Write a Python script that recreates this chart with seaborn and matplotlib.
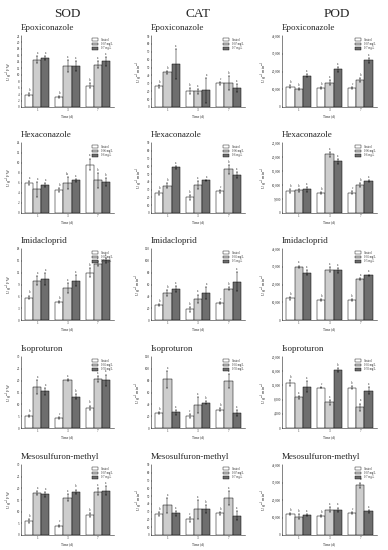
import pandas as pd
import matplotlib
matplotlib.use("Agg")
import matplotlib.pyplot as plt
import seaborn as sns
from matplotlib.ticker import FuncFormatter, MultipleLocator

DAYS = ["1", "3", "7"]
ENZYMES = ["SOD", "CAT", "POD"]
CHEMICALS = ["Epoxiconazole", "Hexaconazole", "Imidacloprid", "Isoproturon", "Mesosulfuron-methyl"]

# dose labels per chemical (control, low, high)
DOSE_EPOX = ["Control", "0.07 mg/L", "0.7 mg/L"]
DOSE_HEXA = ["Control", "0.06 mg/L", "0.6 mg/L"]
DOSE_IMID = ["Control", "0.05 mg/L", "0.5 mg/L"]
DOSE_ISO = ["Control", "0.05 mg/L", "0.50 mg/L"]
DOSE_MESO = ["Control", "0.07 mg/L", "0.7 mg/L"]

# means: rows = dose (control, low, high), columns = day 1, 3, 7
SOD_EPOX = [[3.8, 3.1, 6.6], [14.7, 12.8, 13.1], [15.2, 12.6, 14.1]]
SOD_EPOX_SD = [[0.4, 0.3, 0.8], [1.2, 1.8, 1.0], [0.5, 1.5, 1.5]]
SOD_HEXA = [[5.9, 4.5, 9.7], [4.7, 5.9, 6.5], [5.5, 6.5, 6.1]]
SOD_HEXA_SD = [[0.4, 0.4, 1.2], [1.5, 1.2, 1.5], [0.4, 0.3, 0.8]]
SOD_IMID = [[5.7, 4.6, 12.0], [10.0, 8.1, 14.3], [10.4, 10.0, 15.1]]
SOD_IMID_SD = [[0.5, 0.3, 1.2], [1.2, 1.2, 0.6], [1.4, 1.3, 0.7]]
SOD_ISO = [[5.2, 4.2, 8.5], [17.3, 20.4, 20.8], [15.5, 13.2, 20.1]]
SOD_ISO_SD = [[0.5, 0.5, 1.0], [3.0, 0.4, 1.2], [1.5, 1.0, 2.5]]
SOD_MESO = [[6.0, 4.0, 8.6], [18.0, 16.0, 18.5], [17.5, 18.5, 19.0]]
SOD_MESO_SD = [[0.8, 0.5, 0.8], [1.0, 1.5, 1.5], [1.0, 1.0, 2.0]]

CAT_EPOX = [[26, 20, 30], [44, 20, 30], [54, 21, 24]]
CAT_EPOX_SD = [[2, 4, 2], [2, 3, 9], [19, 16, 5]]
CAT_HEXA = [[25.7, 20, 28], [35, 36, 56], [59, 42, 49]]
CAT_HEXA_SD = [[2, 3, 2], [3, 5, 6], [2, 1, 4]]
CAT_IMID = [[25, 18, 29], [46, 36, 53], [52, 46, 65]]
CAT_IMID_SD = [[2, 4, 2], [5, 7, 3], [5, 10, 16]]
CAT_ISO = [[25, 20, 31], [82, 39, 80], [26.5, 43, 25]]
CAT_ISO_SD = [[2, 3, 2], [14, 14, 12], [4, 3, 5]]
CAT_MESO = [[27, 20, 28], [38, 33, 47], [28, 33, 25]]
CAT_MESO_SD = [[2, 3, 2], [10, 12, 9], [3, 5, 6]]

POD_EPOX = [[11500, 10700, 10700], [10000, 13800, 15200], [17600, 21200, 26200]]
POD_EPOX_SD = [[800, 500, 600], [500, 1500, 1000], [800, 1300, 1500]]
POD_HEXA = [[7800, 7200, 7300], [8100, 20900, 10000], [8500, 18400, 11400]]
POD_HEXA_SD = [[600, 300, 600], [500, 1000, 800], [900, 900, 400]]
POD_IMID = [[12200, 11200, 11200], [29900, 28400, 23200], [26700, 28000, 25100]]
POD_IMID_SD = [[800, 400, 600], [800, 1500, 700], [1200, 1500, 500]]
POD_ISO = [[12700, 11400, 11400], [8600, 7300, 5900], [11600, 16400, 10500]]
POD_ISO_SD = [[900, 200, 500], [300, 700, 1000], [1500, 500, 1000]]
POD_MESO = [[12000, 11000, 12500], [10500, 14500, 28500], [11500, 14500, 13500]]
POD_MESO_SD = [[800, 600, 700], [1500, 1500, 1500], [700, 1200, 1000]]

# significance letters (same layout as means)
LET_A = [["b", "b", "b"], ["a", "a", "a"], ["a", "a", "a"]]
LET_B = [["a", "b", "a"], ["a", "ab", "b"], ["a", "a", "b"]]
LET_C = [["b", "c", "b"], ["a", "a", "a"], ["a", "b", "a"]]
LET_D = [["b", "b", "c"], ["b", "a", "b"], ["a", "a", "a"]]

# y-axis (max, step) per panel
YAX_SOD = [(22, 2), (14, 2), (18, 3), (30, 5), (30, 5)]
YAX_CAT = [(90, 10), (90, 10), (120, 20), (120, 20), (90, 10)]
YAX_POD = [(40000, 10000), (25000, 5000), (40000, 10000), (20000, 4000), (40000, 10000)]

COLORS = ["white", "#cdcdcd", "#6e6e6e"]

sns.set_style("ticks")
plt.rcParams["font.family"] = ["Liberation Serif", "DejaVu Serif"]
plt.rcParams["mathtext.fontset"] = "stix"


def draw_panel(ax, title, doses, means, sds, letters, yax, ylabel, comma=False):
    rows = []
    for d, dose in enumerate(doses):
        for t, day in enumerate(DAYS):
            rows.append({"day": day, "dose": dose, "value": means[d][t]})
    df = pd.DataFrame(rows)
    sns.barplot(data=df, x="day", y="value", hue="dose", hue_order=doses,
                palette=COLORS, edgecolor="black", linewidth=0.35,
                errorbar=None, ax=ax)
    for cont, m, s, lt in zip(ax.containers, means, sds, letters):
        xs = [b.get_x() + b.get_width() / 2 for b in cont]
        ax.errorbar(xs, m, yerr=s, fmt="none", ecolor="black",
                    elinewidth=0.35, capsize=0.8, capthick=0.35)
        for x, v, e, l in zip(xs, m, s, lt):
            ax.text(x, v + e + yax[0] * 0.015, l, ha="center", va="bottom",
                    fontsize=2.2)
    ax.set_ylim(0, yax[0])
    ax.yaxis.set_major_locator(MultipleLocator(yax[1]))
    if comma:
        ax.yaxis.set_major_formatter(FuncFormatter(lambda v, p: f"{int(v):,}"))
    ax.set_xlabel("Time (d)", fontsize=2.5, labelpad=1.5)
    ax.set_ylabel(ylabel, fontsize=3, labelpad=1)
    ax.tick_params(labelsize=2.3, width=0.35, length=1, pad=0.8, direction="in")
    for sp in ["left", "bottom"]:
        ax.spines[sp].set_linewidth(0.4)
    sns.despine(ax=ax)
    leg = ax.legend(loc="upper right", fontsize=2, frameon=False,
                    handlelength=2.5, handleheight=1.0, labelspacing=0.1,
                    borderaxespad=0.2)
    for h in leg.get_patches():
        h.set_linewidth(0.3)
    ax.text(0.0, 1.06, title, transform=ax.transAxes, fontsize=6.5,
            ha="left", va="bottom")


fig = plt.figure(figsize=(3.88, 5.5), dpi=100)

W, H = 388, 550
col_x = [(21, 114), (151, 245), (282, 377)]
row_y = [(36, 107), (143, 213), (249, 320), (357, 428), (465, 535)]
header_x = [67, 198, 337]

doses_all = [DOSE_EPOX, DOSE_HEXA, DOSE_IMID, DOSE_ISO, DOSE_MESO]
panels = {
    "SOD": ([SOD_EPOX, SOD_HEXA, SOD_IMID, SOD_ISO, SOD_MESO],
            [SOD_EPOX_SD, SOD_HEXA_SD, SOD_IMID_SD, SOD_ISO_SD, SOD_MESO_SD],
            [LET_A, LET_B, LET_A, LET_C, LET_C], YAX_SOD, r"U g$^{-1}$ FW", False),
    "CAT": ([CAT_EPOX, CAT_HEXA, CAT_IMID, CAT_ISO, CAT_MESO],
            [CAT_EPOX_SD, CAT_HEXA_SD, CAT_IMID_SD, CAT_ISO_SD, CAT_MESO_SD],
            [LET_D, LET_D, LET_D, LET_C, LET_C], YAX_CAT, r"U g$^{-1}$ min$^{-1}$", False),
    "POD": ([POD_EPOX, POD_HEXA, POD_IMID, POD_ISO, POD_MESO],
            [POD_EPOX_SD, POD_HEXA_SD, POD_IMID_SD, POD_ISO_SD, POD_MESO_SD],
            [LET_D, LET_D, LET_A, LET_C, LET_D], YAX_POD, r"U g$^{-1}$ min$^{-1}$", True),
}

for c, enz in enumerate(ENZYMES):
    means, sds, lets, yaxes, ylab, comma = panels[enz]
    x0, x1 = col_x[c]
    fig.text(header_x[c] / W, 1 - 14 / H, enz, ha="center", va="center", fontsize=9.5)
    for r, chem in enumerate(CHEMICALS):
        y0, y1 = row_y[r]
        ax = fig.add_axes([x0 / W, 1 - y1 / H, (x1 - x0) / W, (y1 - y0) / H])
        draw_panel(ax, chem, doses_all[r], means[r], sds[r], lets[r], yaxes[r], ylab, comma)

fig.savefig("out.png", dpi=100)
